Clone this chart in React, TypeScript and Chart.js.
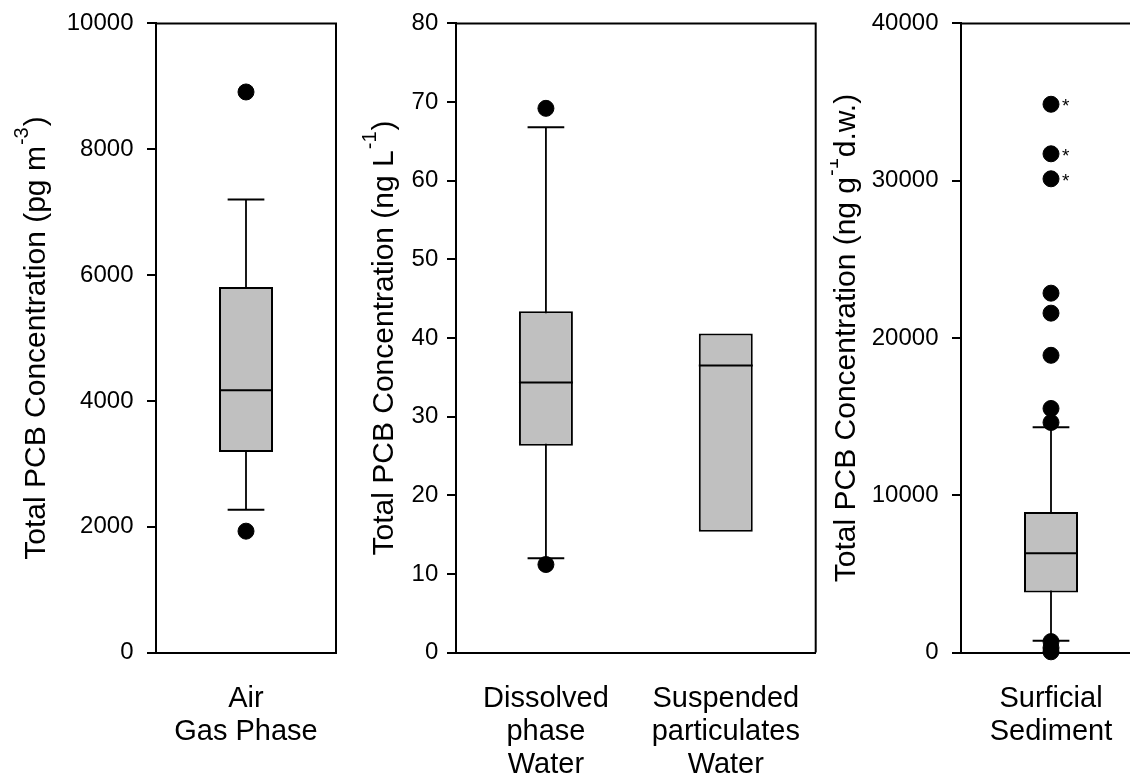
import React, { useEffect, useRef } from 'react';
import { Chart, registerables } from 'chart.js';

Chart.register(...registerables);

const FONT = '"Liberation Sans", Arial, Helvetica, sans-serif';

// ---------------- data ----------------
// Panel A: air, gas phase (pg m-3)
const airLabels = [['Air', 'Gas Phase']];
const airWhiskerLow = [2270];
const airQ1 = [3190];
const airMedian = [4170];
const airQ3 = [5810];
const airWhiskerHigh = [7200];
const airOutliers = [[8910, 1930]];
const airStarred: number[][] = [[]];
const airYTicks = [0, 2000, 4000, 6000, 8000, 10000];

// Panel B: water (ng L-1)
const waterLabels = [
  ['Dissolved', 'phase', 'Water'],
  ['Suspended', 'particulates', 'Water'],
];
const waterWhiskerLow = [12.0, null];
const waterQ1 = [26.3, 15.35];
const waterMedian = [34.35, 36.5];
const waterQ3 = [43.4, 40.57];
const waterWhiskerHigh = [66.8, null];
const waterOutliers = [[69.2, 11.2], []];
const waterStarred: number[][] = [[], []];
const waterYTicks = [0, 10, 20, 30, 40, 50, 60, 70, 80];

// Panel C: surficial sediment (ng g-1 d.w.)
const sedimentLabels = [['Surficial', 'Sediment']];
const sedimentWhiskerLow = [760];
const sedimentQ1 = [3820];
const sedimentMedian = [6320];
const sedimentQ3 = [8940];
const sedimentWhiskerHigh = [14330];
const sedimentOutliers = [[34860, 31710, 30120, 22850, 21580, 18900, 15520, 14630, 700, 300, 50]];
const sedimentStarred = [[34860, 31710, 30120]];
const sedimentYTicks = [0, 10000, 20000, 30000, 40000];

// ---------------- layout ----------------
const H = 774;
const PLOT_TOP = 23.4;
const PLOT_BOTTOM = 652.6;

type Spec = {
  id: string;
  labels: string[][];
  wLow: (number | null)[];
  q1: number[];
  median: number[];
  q3: number[];
  wHigh: (number | null)[];
  outliers: number[][];
  starred: number[][];
  yTicks: number[];
  titleMain: string;
  titleSup: string;
  titleEnd: string;
  canvasLeft: number;
  canvasWidth: number;
  axisWidth: number;
  rightPad: number;
  titleX: number;
  tickPad: number;
};

const panels: Spec[] = [
  {
    id: 'air', labels: airLabels, wLow: airWhiskerLow, q1: airQ1, median: airMedian, q3: airQ3,
    wHigh: airWhiskerHigh, outliers: airOutliers, starred: airStarred, yTicks: airYTicks,
    titleMain: 'Total PCB Concentration (pg m', titleSup: '-3', titleEnd: ')',
    canvasLeft: 0, canvasWidth: 350, axisWidth: 156, rightPad: 14, titleX: 45, tickPad: 13.5,
  },
  {
    id: 'water', labels: waterLabels, wLow: waterWhiskerLow, q1: waterQ1, median: waterMedian, q3: waterQ3,
    wHigh: waterWhiskerHigh, outliers: waterOutliers, starred: waterStarred, yTicks: waterYTicks,
    titleMain: 'Total PCB Concentration (ng L', titleSup: '-1', titleEnd: ')',
    canvasLeft: 350, canvasWidth: 480, axisWidth: 106, rightPad: 14.3, titleX: 43.3, tickPad: 8.7,
  },
  {
    id: 'sediment', labels: sedimentLabels, wLow: sedimentWhiskerLow, q1: sedimentQ1, median: sedimentMedian,
    q3: sedimentQ3, wHigh: sedimentWhiskerHigh, outliers: sedimentOutliers, starred: sedimentStarred,
    yTicks: sedimentYTicks,
    titleMain: 'Total PCB Concentration (ng g', titleSup: '-1', titleEnd: 'd.w.)',
    canvasLeft: 830, canvasWidth: 330, axisWidth: 131, rightPad: 19, titleX: 25, tickPad: 13.5,
  },
];

function drawTitle(ctx: CanvasRenderingContext2D, x: number, cy: number, s: Spec) {
  const mainFont = `30px ${FONT}`;
  const supFont = `20px ${FONT}`;
  ctx.save();
  ctx.font = mainFont;
  const w1 = ctx.measureText(s.titleMain).width;
  const w3 = ctx.measureText(s.titleEnd).width;
  ctx.font = supFont;
  const w2 = ctx.measureText(s.titleSup).width;
  const gap = 1;
  const gap2 = 1;
  const total = w1 + gap + w2 + gap2 + w3;
  ctx.translate(x, cy);
  ctx.rotate(-Math.PI / 2);
  ctx.fillStyle = '#000';
  ctx.textAlign = 'left';
  ctx.textBaseline = 'alphabetic';
  let px = -total / 2;
  ctx.font = mainFont;
  ctx.fillText(s.titleMain, px, 0);
  px += w1 + gap;
  ctx.font = supFont;
  ctx.fillText(s.titleSup, px, -17);
  px += w2 + gap2;
  ctx.font = mainFont;
  ctx.fillText(s.titleEnd, px, 0);
  ctx.restore();
}

function makeConfig(s: Spec): any {
  const boxData = s.q1.map((q, i) => [q, s.q3[i]]);
  const maxN = Math.max(...s.outliers.map((a) => a.length));
  const outlierSets = [];
  for (let k = 0; k < maxN; k++) {
    outlierSets.push({
      type: 'line',
      data: s.outliers.map((a) => (a[k] === undefined ? null : a[k])),
      showLine: false,
      spanGaps: false,
      pointRadius: 8,
      pointHoverRadius: 8,
      pointBackgroundColor: '#000',
      pointBorderColor: '#000',
      pointBorderWidth: 1,
      backgroundColor: '#000',
      borderColor: '#000',
      clip: false,
      order: 0,
    });
  }

  const boxPlugin = {
    id: 'boxParts',
    beforeDatasetsDraw(chart: any) {
      const { ctx } = chart;
      const y = chart.scales.y;
      const meta = chart.getDatasetMeta(0);
      ctx.save();
      ctx.strokeStyle = '#000';
      meta.data.forEach((bar: any, i: number) => {
        const lo = s.wLow[i];
        const hi = s.wHigh[i];
        if (lo == null || hi == null) return;
        const cx = bar.x;
        const cap = bar.width * 0.68;
        const yl = y.getPixelForValue(lo);
        const yh = y.getPixelForValue(hi);
        ctx.lineWidth = 1.8;
        ctx.beginPath();
        ctx.moveTo(cx, yl);
        ctx.lineTo(cx, yh);
        ctx.stroke();
        ctx.lineWidth = 2;
        ctx.beginPath();
        ctx.moveTo(cx - cap / 2, yl);
        ctx.lineTo(cx + cap / 2, yl);
        ctx.moveTo(cx - cap / 2, yh);
        ctx.lineTo(cx + cap / 2, yh);
        ctx.stroke();
      });
      ctx.restore();
    },
    afterDatasetDraw(chart: any, args: any) {
      if (args.index !== 0) return;
      const { ctx } = chart;
      const y = chart.scales.y;
      const meta = chart.getDatasetMeta(0);
      ctx.save();
      ctx.strokeStyle = '#000';
      ctx.lineWidth = 2;
      meta.data.forEach((bar: any, i: number) => {
        const ym = y.getPixelForValue(s.median[i]);
        ctx.beginPath();
        ctx.moveTo(bar.x - bar.width / 2, ym);
        ctx.lineTo(bar.x + bar.width / 2, ym);
        ctx.stroke();
      });
      ctx.restore();
    },
    afterDatasetsDraw(chart: any) {
      const { ctx } = chart;
      const y = chart.scales.y;
      const meta = chart.getDatasetMeta(0);
      ctx.save();
      ctx.fillStyle = '#000';
      ctx.font = `19px ${FONT}`;
      ctx.textAlign = 'left';
      ctx.textBaseline = 'alphabetic';
      s.starred.forEach((arr, i) => {
        const bar: any = meta.data[i];
        arr.forEach((v) => {
          const py = y.getPixelForValue(v);
          ctx.fillText('*', bar.x + 11, py + 8);
        });
      });
      ctx.restore();
    },
    afterDraw(chart: any) {
      const { ctx, chartArea } = chart;
      ctx.save();
      ctx.strokeStyle = '#000';
      ctx.lineWidth = 2;
      ctx.beginPath();
      ctx.moveTo(chartArea.left - 1, chartArea.top);
      ctx.lineTo(chartArea.right, chartArea.top);
      ctx.lineTo(chartArea.right, chartArea.bottom);
      ctx.stroke();
      ctx.restore();
      drawTitle(ctx, s.titleX, (chartArea.top + chartArea.bottom) / 2, s);
    },
  };

  return {
    type: 'bar',
    data: {
      labels: s.labels,
      datasets: [
        {
          type: 'bar',
          data: boxData,
          backgroundColor: '#c0c0c0',
          borderColor: '#000',
          borderWidth: 2,
          borderSkipped: false,
          barPercentage: 0.3,
          categoryPercentage: 1,
          order: 2,
        },
        ...outlierSets,
      ],
    },
    options: {
      responsive: false,
      animation: false,
      devicePixelRatio: 1,
      events: [],
      layout: { autoPadding: false, padding: { top: PLOT_TOP, right: s.rightPad, bottom: 0, left: 0 } },
      plugins: { legend: { display: false }, tooltip: { enabled: false }, title: { display: false } },
      scales: {
        x: {
          type: 'category',
          offset: true,
          grid: { display: false, drawTicks: false },
          border: { display: true, color: '#000', width: 2 },
          ticks: {
            color: '#000',
            font: { family: FONT, size: 29, lineHeight: '33px' },
            padding: 30,
            maxRotation: 0,
            minRotation: 0,
            autoSkip: false,
          },
          afterFit: (sc: any) => {
            sc.height = H - PLOT_BOTTOM;
            sc.paddingLeft = 0;
            sc.paddingRight = 0;
            sc.paddingTop = 0;
            sc.paddingBottom = 0;
          },
        },
        y: {
          type: 'linear',
          min: s.yTicks[0],
          max: s.yTicks[s.yTicks.length - 1],
          afterBuildTicks: (sc: any) => {
            sc.ticks = s.yTicks.map((v) => ({ value: v }));
          },
          grid: { drawOnChartArea: false, drawTicks: true, tickLength: 9, color: '#000', lineWidth: 2 },
          border: { display: true, color: '#000', width: 2 },
          ticks: {
            color: '#000',
            font: { family: FONT, size: 24 },
            padding: s.tickPad,
            callback: (v: any) => String(v),
          },
          afterFit: (sc: any) => {
            sc.width = s.axisWidth;
            sc.paddingLeft = 0;
            sc.paddingRight = 0;
            sc.paddingTop = 0;
            sc.paddingBottom = 0;
          },
        },
      },
    },
    plugins: [boxPlugin],
  };
}

function Panel({ spec }: { spec: Spec }) {
  const ref = useRef<HTMLCanvasElement>(null);
  useEffect(() => {
    if (!ref.current) return;
    const chart = new Chart(ref.current, makeConfig(spec));
    return () => chart.destroy();
  }, [spec]);
  return (
    <canvas
      ref={ref}
      width={spec.canvasWidth}
      height={H}
      style={{ position: 'absolute', left: spec.canvasLeft, top: 0, width: spec.canvasWidth, height: H }}
    />
  );
}

export default function App() {
  return (
    <div
      style={{
        position: 'absolute',
        left: 0,
        top: 0,
        width: 1130,
        height: H,
        overflow: 'hidden',
        background: '#fff',
      }}
    >
      {panels.map((p) => (
        <Panel key={p.id} spec={p} />
      ))}
    </div>
  );
}
